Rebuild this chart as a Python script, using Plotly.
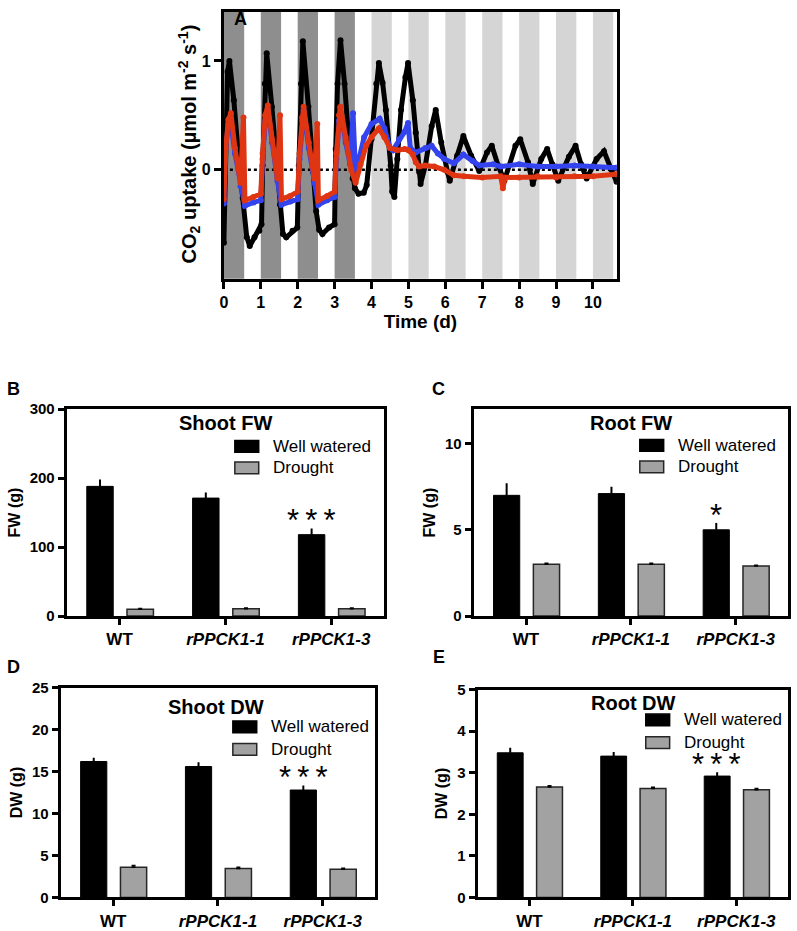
import plotly.graph_objects as go

# ---------------- data: panel A (CO2 uptake time course) ----------------
t_wt = [0.0, 0.05, 0.10, 0.15, 0.27, 0.40, 0.51, 0.62, 0.70, 0.83, 0.96, 1.02, 1.05, 1.11, 1.16,
        1.30, 1.43, 1.52, 1.60, 1.69, 1.86, 1.99, 2.03, 2.09, 2.14, 2.29, 2.42, 2.50, 2.58, 2.67,
        2.85, 3.00, 3.03, 3.08, 3.16, 3.27, 3.40, 3.49, 3.55, 3.65, 3.79, 3.87, 4.00, 4.13, 4.20,
        4.30, 4.39, 4.52, 4.56, 4.62, 4.70, 4.80, 4.92, 4.99, 5.12, 5.20, 5.29, 5.33, 5.46, 5.63,
        5.74, 5.89, 6.06, 6.12, 6.32, 6.49, 6.70, 6.92, 7.13, 7.26, 7.43, 7.60, 7.90, 8.03, 8.24,
        8.37, 8.60, 8.76, 8.90, 9.06, 9.35, 9.53, 9.68, 9.83, 10.10, 10.30, 10.50, 10.64]
co2_wt = [-0.67, 0.45, 0.90, 1.00, 0.64, 0.10, -0.26, -0.62, -0.70, -0.62, -0.56, -0.50, 0.04, 0.79, 1.07,
          0.58, 0.04, -0.32, -0.59, -0.62, -0.56, -0.53, 0.04, 0.79, 1.18, 0.58, -0.02, -0.38, -0.55, -0.59,
          -0.53, -0.50, 0.19, 0.79, 1.19, 0.79, 0.19, -0.08, -0.17, -0.22, -0.21, -0.14, 0.28, 0.79, 0.98,
          0.80, 0.55, 0.04, -0.20, -0.25, 0.10, 0.55, 0.85, 0.98, 0.64, 0.34, -0.02, -0.13, 0.04, 0.40,
          0.55, 0.25, -0.02, -0.10, 0.13, 0.31, 0.13, -0.01, 0.16, 0.22, 0.04, -0.10, 0.22, 0.28, 0.07,
          -0.13, 0.10, 0.19, 0.05, -0.10, 0.12, 0.22, 0.05, -0.08, 0.10, 0.17, 0.00, -0.11]

t_l1 = [0.0, 0.05, 0.12, 0.18, 0.30, 0.45, 0.57, 0.80, 1.00, 1.05, 1.12, 1.19, 1.30, 1.45, 1.56,
        1.80, 2.00, 2.05, 2.12, 2.16, 2.30, 2.45, 2.56, 2.80, 3.00, 3.05, 3.12, 3.15, 3.30, 3.42,
        3.50, 3.57, 3.66, 3.80, 4.00, 4.22, 4.35, 4.50, 4.58, 4.75, 4.90, 4.99, 5.05, 5.20, 5.46,
        5.63, 5.80, 5.97, 6.23, 6.49, 6.74, 6.92, 7.30, 7.50, 8.00, 8.50, 9.00, 9.50, 10.00, 10.62]
co2_l1 = [-0.31, 0.20, 0.42, 0.45, 0.15, -0.15, -0.33, -0.30, -0.28, 0.10, 0.45, 0.55, 0.25, -0.10, -0.32,
          -0.29, -0.27, 0.10, 0.45, 0.55, 0.20, -0.12, -0.32, -0.28, -0.25, 0.10, 0.45, 0.57, 0.25, 0.05,
          0.52, -0.05, 0.10, 0.30, 0.42, 0.47, 0.38, 0.20, 0.18, 0.28, 0.35, 0.43, 0.20, 0.16, 0.20,
          0.22, 0.15, 0.10, 0.06, 0.14, 0.08, 0.04, 0.05, 0.03, 0.05, 0.03, 0.03, 0.04, 0.03, 0.02]

t_l3 = [0.0, 0.05, 0.12, 0.19, 0.30, 0.45, 0.53, 0.57, 0.80, 1.00, 1.05, 1.12, 1.19, 1.30, 1.45,
        1.52, 1.56, 1.80, 2.00, 2.05, 2.12, 2.16, 2.30, 2.45, 2.53, 2.56, 2.80, 3.00, 3.05, 3.12,
        3.16, 3.30, 3.45, 3.57, 3.70, 3.85, 4.00, 4.20, 4.35, 4.50, 4.70, 4.90, 5.00, 5.12, 5.20,
        5.29, 5.46, 5.70, 5.97, 6.23, 6.50, 7.00, 7.50, 7.56, 7.62, 8.00, 8.50, 9.00, 9.50, 10.00, 10.62]
co2_l3 = [-0.27, 0.20, 0.46, 0.52, 0.20, -0.12, 0.48, -0.28, -0.25, -0.22, 0.15, 0.50, 0.59, 0.28, -0.08,
          0.50, -0.27, -0.24, -0.20, 0.15, 0.48, 0.58, 0.25, -0.08, 0.42, -0.28, -0.24, -0.20, 0.15, 0.50,
          0.58, 0.30, 0.00, -0.12, 0.05, 0.22, 0.30, 0.38, 0.30, 0.20, 0.18, 0.19, 0.18, 0.14, 0.07,
          0.03, 0.04, 0.03, 0.00, -0.05, -0.06, -0.07, -0.06, -0.17, -0.07, -0.07, -0.06, -0.07, -0.06, -0.06, -0.04]

dark_days = [0, 1, 2, 3]            # dark periods, well watered
light_days = [4, 5, 6, 7, 8, 9, 10]  # dark periods, drought
time_ticks = [0, 1, 2, 3, 4, 5, 6, 7, 8, 9, 10]

# ---------------- data: panels B-E (biomass) ----------------
genotypes = ["WT", "rPPCK1-1", "rPPCK1-3"]
geno_labels = ["<b>WT</b>", "<b><i>rPPCK1-1</i></b>", "<b><i>rPPCK1-3</i></b>"]

shoot_fw_ww = [188, 171, 118]
shoot_fw_ww_err = [10, 8, 9]
shoot_fw_dr = [10, 10.5, 10.5]
shoot_fw_dr_err = [1, 1, 1]

root_fw_ww = [7.0, 7.1, 5.0]
root_fw_ww_err = [0.7, 0.4, 0.4]
root_fw_dr = [3.0, 3.0, 2.9]
root_fw_dr_err = [0.06, 0.06, 0.05]

shoot_dw_ww = [16.2, 15.6, 12.8]
shoot_dw_ww_err = [0.45, 0.5, 0.55]
shoot_dw_dr = [3.6, 3.45, 3.35]
shoot_dw_dr_err = [0.2, 0.15, 0.12]

root_dw_ww = [3.48, 3.40, 2.92]
root_dw_ww_err = [0.12, 0.10, 0.09]
root_dw_dr = [2.66, 2.62, 2.59]
root_dw_dr_err = [0.03, 0.03, 0.03]

STARS3 = "*\u2009*\u2009*"
sig_shoot_fw = ["", "", STARS3]
sig_root_fw = ["", "", "*"]
sig_shoot_dw = ["", "", STARS3]
sig_root_dw = ["", "", STARS3]

# ---------------- layout helpers ----------------
W, H = 797, 931
FONT = "Arial, Liberation Sans, sans-serif"


def px(x):
    return x / W


def py(y):
    return 1 - y / H


def base_axis(**kw):
    d = dict(showline=True, linecolor="black", linewidth=3, mirror=True,
             ticks="outside", ticklen=6, tickwidth=3, tickcolor="black",
             showgrid=False, zeroline=False,
             tickfont=dict(family=FONT, size=15, color="black", weight="bold"))
    d.update(kw)
    return d


fig = go.Figure()

# ---- Panel A ----
for t, v, col in [(t_wt, co2_wt, "#000000"), (t_l1, co2_l1, "#3344ee"), (t_l3, co2_l3, "#e03512")]:
    fig.add_trace(go.Scatter(x=t, y=v, mode="lines+markers", xaxis="x", yaxis="y",
                             line=dict(color=col, width=5), marker=dict(color=col, size=6),
                             showlegend=False))

band_len = 0.55
shapes = []
for d in dark_days:
    shapes.append(dict(type="rect", xref="x", yref="y domain", x0=d, x1=d + band_len, y0=0, y1=1,
                       fillcolor="#8e8e8e", line=dict(width=0), layer="below"))
for d in light_days:
    shapes.append(dict(type="rect", xref="x", yref="y domain", x0=d, x1=d + band_len, y0=0, y1=1,
                       fillcolor="#d5d5d5", line=dict(width=0), layer="below"))
shapes.append(dict(type="line", xref="x domain", yref="y", x0=0, x1=1, y0=0, y1=0,
                   line=dict(color="black", width=2.5, dash="dot"), layer="below"))

fig.update_layout(
    xaxis=base_axis(domain=[px(221), px(616)], anchor="y", range=[0, 10.65],
                    tickvals=time_ticks, ticklen=7,
                    tickfont=dict(family=FONT, size=16, color="black", weight="bold"),
                    title=dict(text="Time (d)", standoff=0,
                               font=dict(family=FONT, size=19, color="black", weight="bold"))),
    yaxis=base_axis(domain=[py(275), py(3)], anchor="x", range=[-1, 1.45],
                    tickvals=[0, 1], ticklen=7,
                    tickfont=dict(family=FONT, size=16, color="black", weight="bold")),
)

annotations = [dict(text="<b>CO<sub>2</sub> uptake (µmol m<sup>-2</sup> s<sup>-1</sup>)</b>",
                    x=px(186), y=py(138), xref="paper", yref="paper", textangle=-90,
                    showarrow=False, xanchor="center", yanchor="middle",
                    font=dict(family=FONT, size=20, color="black"))]

# ---- Bar panels ----
panels = [
    ("2", (63, 382), (619, 408), [0, 300], [0, 100, 200, 300], "FW (g)", "Shoot FW", (223, 422),
     shoot_fw_ww, shoot_fw_ww_err, shoot_fw_dr, shoot_fw_dr_err, sig_shoot_fw, (232, 446, 468)),
    ("3", (472, 788), (619, 408), [0, 12], [0, 5, 10], "FW (g)", "Root FW", (630, 422),
     root_fw_ww, root_fw_ww_err, root_fw_dr, root_fw_dr_err, sig_root_fw, (639, 445, 467)),
    ("4", (57, 373), (906, 692), [0, 25], [0, 5, 10, 15, 20, 25], "DW (g)", "Shoot DW", (213, 712),
     shoot_dw_ww, shoot_dw_ww_err, shoot_dw_dr, shoot_dw_dr_err, sig_shoot_dw, (230, 732, 755)),
    ("5", (476, 788), (906, 694), [0, 5], [0, 1, 2, 3, 4, 5], "DW (g)", "Root DW", (633, 708),
     root_dw_ww, root_dw_ww_err, root_dw_dr, root_dw_dr_err, sig_root_dw, (645, 725, 748)),
]

bar_w = 0.25
off_ww = -0.31
off_dr = 0.07

for (aid, xd, yd, yr, tv, ytitle, title, tpos, ww, wwe, dr, dre, sig, leg) in panels:
    xa, ya = "x" + aid, "y" + aid
    fig.add_trace(go.Bar(x=genotypes, y=ww, xaxis=xa, yaxis=ya, offset=off_ww, width=bar_w,
                         marker=dict(color="#000000", line=dict(color="#000000", width=1)),
                         error_y=dict(type="data", array=wwe, arrayminus=[0] * 3, symmetric=False,
                                      color="black", thickness=2, width=0),
                         name="Well watered", showlegend=False))
    fig.add_trace(go.Bar(x=genotypes, y=dr, xaxis=xa, yaxis=ya, offset=off_dr, width=bar_w,
                         marker=dict(color="#a2a2a2", line=dict(color="#262626", width=1.5)),
                         error_y=dict(type="data", array=dre, arrayminus=[0] * 3, symmetric=False,
                                      color="black", thickness=1.5, width=2),
                         name="Drought", showlegend=False))
    fig.layout["xaxis" + aid] = base_axis(
        domain=[px(xd[0]), px(xd[1])], anchor=ya, type="category", range=[-0.5, 2.5],
        tickvals=genotypes, ticktext=geno_labels,
        tickfont=dict(family=FONT, size=17, color="black", weight="bold"))
    fig.layout["yaxis" + aid] = base_axis(
        domain=[py(yd[0]), py(yd[1])], anchor=xa, range=yr, tickvals=tv,
        title=dict(text=ytitle, standoff=6, font=dict(family=FONT, size=16, color="black", weight="bold")))
    annotations.append(dict(text="<b>%s</b>" % title, x=px(tpos[0]), y=py(tpos[1]), xref="paper", yref="paper",
                            showarrow=False, xanchor="center", yanchor="middle",
                            font=dict(family=FONT, size=20, color="black")))
    for g, s, v, e in zip(genotypes, sig, ww, wwe):
        if s:
            annotations.append(dict(text=s, x=g, y=v + e, xref=xa, yref=ya, showarrow=False,
                                    xanchor="center", yanchor="bottom", xshift=(off_ww + bar_w / 2) * 105,
                                    yshift=-12, font=dict(family=FONT, size=31, color="black")))
    lx, ly1, ly2 = leg
    for yy, col, lab, lc in [(ly1, "#000000", "Well watered", "#000000"), (ly2, "#a2a2a2", "Drought", "#262626")]:
        shapes.append(dict(type="rect", xref="paper", yref="paper", x0=px(lx), x1=px(lx + 24),
                           y0=py(yy + 6), y1=py(yy - 6), fillcolor=col, line=dict(color=lc, width=1.5)))
        annotations.append(dict(text=lab, x=px(lx + 36), y=py(yy), xref="paper", yref="paper",
                                showarrow=False, xanchor="left", yanchor="middle",
                                font=dict(family=FONT, size=17, color="black")))

for lab, x, y in [("A", 238, 10), ("B", 10, 387), ("C", 437, 387), ("D", 10, 671), ("E", 437, 661)]:
    annotations.append(dict(text="<b>%s</b>" % lab, x=px(x), y=py(y), xref="paper", yref="paper",
                            showarrow=False, xanchor="center", yanchor="middle",
                            font=dict(family=FONT, size=18, color="black")))

fig.update_layout(width=W, height=H, margin=dict(l=0, r=0, t=0, b=0),
                  paper_bgcolor="white", plot_bgcolor="white", barmode="overlay",
                  font=dict(family=FONT, color="black"),
                  shapes=shapes, annotations=annotations, showlegend=False)

fig.write_html("out.html", config={"displayModeBar": False},
               post_script="document.body.style.margin='0';")
